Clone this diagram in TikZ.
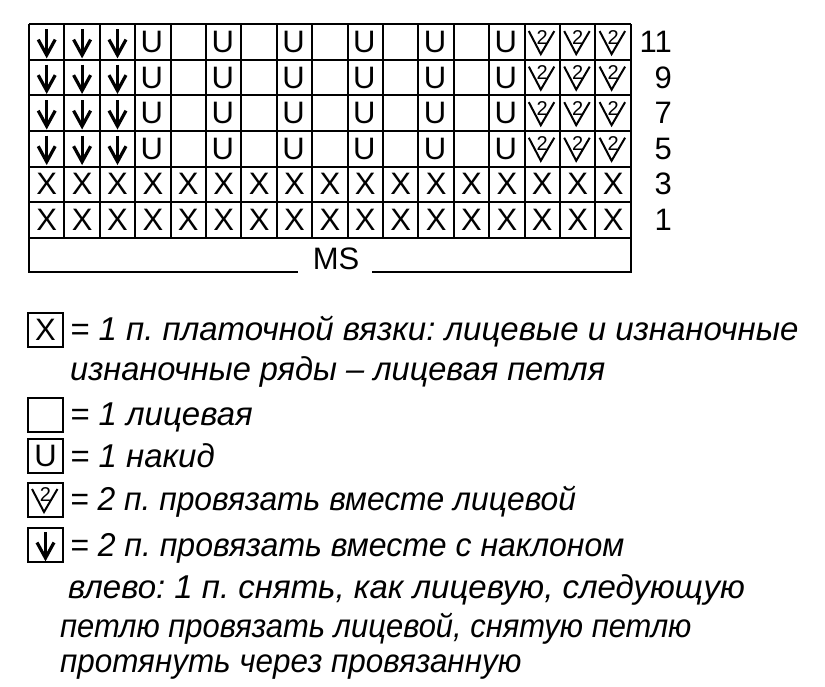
\documentclass[tikz,border=0pt]{standalone}
\usepackage{fontspec}
\setmainfont{Liberation Sans}
\usetikzlibrary{calc}
\frenchspacing

\newcommand{\cellw}{35.4}
\newcommand{\cellh}{35.55}

\begin{document}
\begin{tikzpicture}[x=1pt, y=-1pt,
    gridline/.style={line width=2pt},
    cellsym/.style={font=\fontsize{31}{31}\selectfont, inner sep=0pt},
    rownum/.style={font=\fontsize{31}{31}\selectfont, anchor=east, inner sep=0pt},
    twomark/.style={font=\fontsize{20}{20}\selectfont, inner sep=0pt},
    legbox/.style={draw, line width=1.8pt, minimum width=35pt, minimum height=34pt, inner sep=0pt},
    legtext/.style={font=\itshape\fontsize{33}{33}\selectfont, anchor=base west, inner sep=0pt},
    dnarrow/.style={line width=3.2pt, line join=miter},
    vmark/.style={line width=2pt}]
    \useasboundingbox (0,0) rectangle (825,686);

    % Chart grid
    \foreach \i in {0,...,17} {
        \draw[gridline] (29+\i*\cellw, 24.3) -- (29+\i*\cellw, 24.3+6*\cellh);
    }
    \foreach \j in {0,...,6} {
        \draw[gridline] (29, 24.3+\j*\cellh) -- (29+17*\cellw, 24.3+\j*\cellh);
    }

    % MS row
    \node[cellsym] (ms) at (336, 259) {MS};
    \draw[gridline] (29, 24.3+6*\cellh) -- (29, 271.7) -- (298, 271.7);
    \draw[gridline] (372, 271.7) -- (29+17*\cellw, 271.7) -- (29+17*\cellw, 24.3+6*\cellh);

    % Garter rows
    \foreach \j in {5,6} {
        \foreach \i in {1,...,17} {
            \node[cellsym] (x-\i-\j) at (29+\i*\cellw-0.5*\cellw, 24.3+\j*\cellh-0.5*\cellh) {X};
        }
    }

    % Pattern rows
    \foreach \j in {1,...,4} {
        \foreach \i in {1,2,3} {
            \coordinate (c) at (29+\i*\cellw-0.5*\cellw, 24.3+\j*\cellh-0.5*\cellh);
            \draw[dnarrow] ($(c)+(0,-13)$) -- ($(c)+(0,12)$);
            \draw[dnarrow] ($(c)+(-8.5,-2.5)$) -- ($(c)+(0,13)$) -- ($(c)+(8.5,-2.5)$);
        }
        \foreach \i in {4,6,...,14} {
            \node[cellsym] (u-\i-\j) at (29+\i*\cellw-0.5*\cellw-1, 24.3+\j*\cellh-0.5*\cellh) {U};
        }
        \foreach \i in {15,16,17} {
            \coordinate (c) at (29+\i*\cellw-0.5*\cellw, 24.3+\j*\cellh-0.5*\cellh);
            \draw[vmark] ($(c)+(-13.5,-11)$) -- ($(c)+(-1.5,12)$) -- ($(c)+(12,-11)$);
            \node[twomark] (v-\i-\j) at ($(c)+(0,-5)$) {2};
        }
    }

    % Row numbers
    \foreach \lbl [count=\j] in {11,9,7,5,3,1} {
        \node[rownum] (r-\lbl) at (672, 24.3+\j*\cellh-0.5*\cellh) {\lbl};
    }

    % Legend
    \node[legbox, cellsym] (kx) at (45.5, 330) {X};
    \node[legtext] (tx) at (70, 340) {= 1 п. платочной вязки: лицевые и изнаночные};
    \node[legtext] (tx2) at (70, 380) {\scalebox{0.987}[1]{изнаночные ряды – лицевая петля}};

    \node[legbox] (kk) at (45.5, 415) {};
    \node[legtext] (tk) at (70, 425) {= 1 лицевая};

    \node[legbox, cellsym] (ku) at (45.5, 456) {U};
    \node[legtext] (tu) at (70, 467) {= 1 накид};

    \node[legbox] (kv) at (45.5, 500) {};
    \draw[vmark] ($(kv)+(-13.5,-11)$) -- ($(kv)+(-1.5,12)$) -- ($(kv)+(12,-11)$);
    \node[twomark] (kv2) at ($(kv)+(0,-5)$) {2};
    \node[legtext] (tv) at (70, 510) {\scalebox{0.964}[1]{= 2 п. провязать вместе лицевой}};

    \node[legbox] (ka) at (45.5, 545) {};
    \draw[dnarrow] ($(ka)+(0,-13)$) -- ($(ka)+(0,12)$);
    \draw[dnarrow] ($(ka)+(-8.5,-2.5)$) -- ($(ka)+(0,13)$) -- ($(ka)+(8.5,-2.5)$);
    \node[legtext] (ta) at (70, 556) {\scalebox{0.97}[1]{= 2 п. провязать вместе с наклоном}};
    \node[legtext] (ta2) at (68, 598) {влево: 1 п. снять, как лицевую, следующую};
    \node[legtext] (ta3) at (60, 637) {\scalebox{0.9375}[1]{петлю провязать лицевой, снятую петлю}};
    \node[legtext] (ta4) at (60, 672) {\scalebox{0.952}[1]{протянуть через провязанную}};
\end{tikzpicture}
\end{document}
